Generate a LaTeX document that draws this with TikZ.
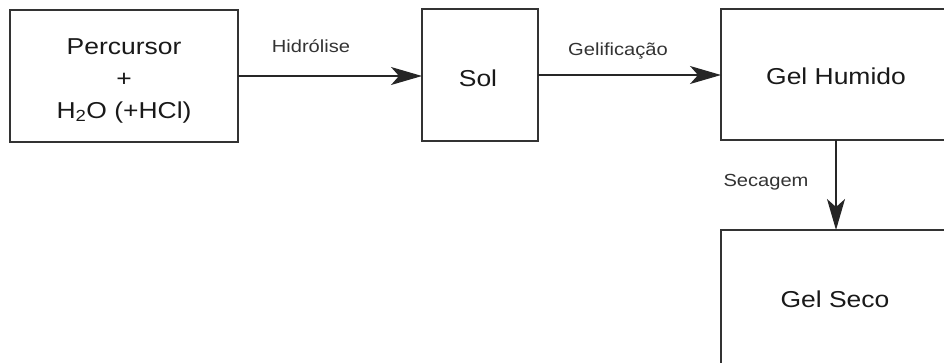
\documentclass[tikz,border=0pt]{standalone}
\usepackage{fontspec}
\setmainfont[FakeStretch=1.15]{Liberation Sans}
\usetikzlibrary{arrows.meta}
\begin{document}
\begin{tikzpicture}[x=1pt,y=-1pt,
  box/.style={draw=black!80,line width=1.4pt,inner sep=0pt,outer sep=0pt},
  txt/.style={font=\fontsize{23}{31}\selectfont,text=black!90,inner sep=0pt,anchor=base},
  lbl/.style={font=\fontsize{17.5}{20}\selectfont,text=black!80,inner sep=0pt,anchor=base},
  conn/.style={draw=black!85,line width=1.4pt,
    -{Stealth[length=31pt,width=18pt,inset=8pt]}}]
\useasboundingbox (0,0) rectangle (944,362);
\clip (0,0) rectangle (944,362);
\node[box,minimum width=228pt,minimum height=132pt] (perc) at (124,76) {};
\node[box,minimum width=116pt,minimum height=132pt] (sol) at (480,75) {};
\node[box,minimum width=230pt,minimum height=131pt] (hum) at (836,74.5) {};
\node[box,minimum width=230pt,minimum height=136pt] (seco) at (836,298) {};
\node[txt] (t1) at (124,54) {Percursor};
\node[txt] (t2) at (124,86) {+};
\node[txt] (t3) at (124,118) {H\textsubscript{2}O (+HCl)};
\node[txt] (t4) at (478,86) {Sol};
\node[txt] (t5) at (836,84) {Gel Humido};
\node[txt] (t6) at (835,307) {Gel Seco};
\draw[conn] (perc.east) -- (perc.east -| sol.west);
\draw[conn] (sol.east) -- (sol.east -| hum.west);
\draw[conn] (hum.south) -- (seco.north);
\node[lbl] (l1) at (311,52) {Hidrólise};
\node[lbl] (l2) at (618,55) {Gelificação};
\node[lbl] (l3) at (766,186) {Secagem};
\end{tikzpicture}
\end{document}
